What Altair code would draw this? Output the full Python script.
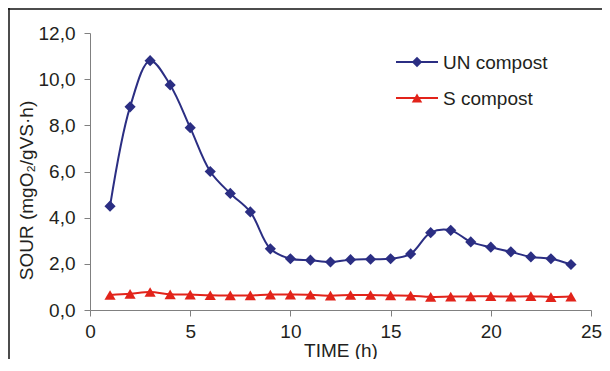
import altair as alt
import pandas as pd

times = list(range(1, 25))
un_compost = [4.5, 8.8, 10.8, 9.75, 7.9, 6.0, 5.05, 4.25, 2.65, 2.22, 2.16, 2.08,
              2.18, 2.2, 2.22, 2.43, 3.35, 3.45, 2.95, 2.72, 2.52, 2.3, 2.22, 1.97]
s_compost = [0.65, 0.7, 0.78, 0.68, 0.67, 0.64, 0.63, 0.63, 0.67, 0.67, 0.66, 0.62,
             0.65, 0.65, 0.63, 0.62, 0.57, 0.58, 0.59, 0.6, 0.58, 0.6, 0.56, 0.58]
series_names = ["UN compost", "S compost"]
series_colors = ["#2B2E83", "#E2231A"]
series_shapes = ["diamond", "triangle-up"]
x_ticks = [0, 5, 10, 15, 20, 25]
y_ticks = [0, 2, 4, 6, 8, 10, 12]

rows = []
for t, v in zip(times, un_compost):
    rows.append({"time": t, "value": v, "series": series_names[0]})
for t, v in zip(times, s_compost):
    rows.append({"time": t, "value": v, "series": series_names[1]})
df = pd.DataFrame(rows)

FONT = "Liberation Sans"
TXT = "#231F20"

cscale = alt.Scale(domain=series_names, range=series_colors)
sscale = alt.Scale(domain=series_names, range=series_shapes)

xenc = alt.X("time:Q", scale=alt.Scale(domain=[0, 25], nice=False),
             axis=alt.Axis(values=x_ticks, title="TIME (h)", titlePadding=0,
                           labelPadding=6, tickSize=6, labelFlush=False))
yenc = alt.Y("value:Q", scale=alt.Scale(domain=[0, 12], nice=False),
             axis=alt.Axis(values=y_ticks, title="SOUR (mgO₂/gVS·h)",
                           labelExpr="replace(format(datum.value, '.1f'), '.', ',')",
                           labelPadding=9, tickSize=6, titlePadding=2, titleY=157,
                           labelFlush=False))

line = alt.Chart(df).mark_line(interpolate="catmull-rom", strokeWidth=2).encode(
    x=xenc, y=yenc,
    color=alt.Color("series:N", scale=cscale, legend=None),
    detail="series:N")

points = alt.Chart(df).mark_point(filled=True, size=125, opacity=1).encode(
    x="time:Q", y="value:Q",
    color=alt.Color("series:N", scale=cscale, legend=None),
    shape=alt.Shape("series:N", scale=sscale, legend=None))

# hand-drawn legend (line + marker + label), placed inside the plot top-right
leg_layers = []
for i, name in enumerate(series_names):
    ldf = pd.DataFrame({"series": [name]})
    yy = 29 + 36 * i
    leg_layers.append(alt.Chart(ldf).mark_rule(strokeWidth=2).encode(
        x=alt.value(306), x2=alt.value(348), y=alt.value(yy),
        color=alt.Color("series:N", scale=cscale, legend=None)))
    leg_layers.append(alt.Chart(ldf).mark_point(filled=True, size=110, opacity=1).encode(
        x=alt.value(327), y=alt.value(yy),
        color=alt.Color("series:N", scale=cscale, legend=None),
        shape=alt.Shape("series:N", scale=sscale, legend=None)))
    leg_layers.append(alt.Chart(ldf).mark_text(
        align="left", baseline="middle", font=FONT, fontSize=19, color=TXT, dy=1).encode(
        x=alt.value(353), y=alt.value(yy), text="series:N"))

frame_df = pd.DataFrame({"a": [0]})
frame_left = alt.Chart(frame_df).mark_rule(color="#111111", strokeWidth=1.5).encode(
    x=alt.value(-81), y=alt.value(-25), y2=alt.value(326))
frame_top = alt.Chart(frame_df).mark_rule(color="#111111", strokeWidth=1.5).encode(
    x=alt.value(-82), x2=alt.value(512), y=alt.value(-24))

chart = alt.layer(line, points, *leg_layers, frame_left, frame_top).properties(
    width=501, height=277,
    autosize=alt.AutoSizeParams(type="none"),
    padding={"left": 82, "top": 25, "right": 11, "bottom": 49},
).configure_view(stroke=None).configure_axis(
    grid=False, domainColor="#808080", tickColor="#808080",
    labelFont=FONT, labelFontSize=19, labelColor=TXT,
    titleFont=FONT, titleFontSize=19, titleColor=TXT, titleFontWeight="normal",
)

chart.save("out.html", embed_options={"renderer": "svg", "actions": False})
